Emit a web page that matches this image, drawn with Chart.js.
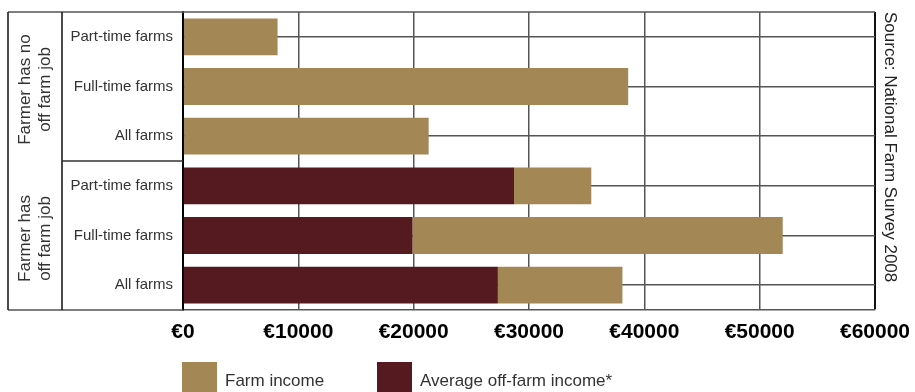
<!DOCTYPE html>
<html>
<head>
<meta charset="utf-8">
<script src="https://cdn.jsdelivr.net/npm/chart.js@4"></script>
<style>
  body { margin: 0; background: #fff; }
  #wrap { width: 915px; height: 392px; position: relative; }
</style>
</head>
<body>
<div id="wrap"><canvas id="myChart1"></canvas></div>
<script>
// categories, top to bottom
const farmTypes = ['Part-time farms', 'Full-time farms', 'All farms', 'Part-time farms', 'Full-time farms', 'All farms'];
const groupLabels = [['Farmer has no', 'off farm job'], ['Farmer has', 'off farm job']];
const groupSizes = [3, 3];

// series values (euro)
const offFarmIncome = [100, 100, 100, 28700, 19900, 27300];
const farmIncome = [8100, 38500, 21200, 6700, 32100, 10800];

const tickValues = [0, 10000, 20000, 30000, 40000, 50000, 60000];
const sourceText = 'Source: National Farm Survey 2008';

const tan = 'rgb(163, 136, 86)';
const maroon = 'rgb(84, 26, 31)';

// draws the table frame, group labels, source note and legend
const framePlugin = {
    id: 'frame',
    afterDraw(chart) {
        const ctx = chart.ctx;
        const area = chart.chartArea;
        const yScale = chart.scales.y;
        const outerX = 8, innerX = 62;

        ctx.save();
        ctx.strokeStyle = '#555';
        ctx.lineWidth = 1.5;
        ctx.beginPath();
        ctx.moveTo(outerX, area.top); ctx.lineTo(area.right, area.top);
        ctx.moveTo(outerX, area.bottom); ctx.lineTo(area.left, area.bottom);
        ctx.stroke();

        ctx.strokeStyle = '#111';
        ctx.beginPath();
        ctx.moveTo(outerX, area.top); ctx.lineTo(outerX, area.bottom);
        ctx.moveTo(innerX, area.top); ctx.lineTo(innerX, area.bottom);
        ctx.stroke();

        // group separators + rotated group labels
        let start = 0;
        groupSizes.forEach((size, g) => {
            const end = start + size - 1;
            const half = (yScale.getPixelForTick(1) - yScale.getPixelForTick(0)) / 2;
            const top = yScale.getPixelForTick(start) - half;
            const bottom = yScale.getPixelForTick(end) + half;
            if (g > 0) {
                ctx.strokeStyle = '#333';
                ctx.lineWidth = 1.5;
                ctx.beginPath();
                ctx.moveTo(innerX, top); ctx.lineTo(area.left, top);
                ctx.stroke();
            }
            const cy = (top + bottom) / 2 + 3;
            ctx.save();
            ctx.translate(35, cy);
            ctx.rotate(-Math.PI / 2);
            ctx.fillStyle = '#333';
            ctx.font = '17px "Liberation Sans", Arial, sans-serif';
            ctx.textAlign = 'center';
            ctx.textBaseline = 'middle';
            ctx.fillText(groupLabels[g][0], 0, -10);
            ctx.fillText(groupLabels[g][1], 0, 10);
            ctx.restore();
            start += size;
        });

        // source note on the right
        ctx.save();
        ctx.translate(890, area.top);
        ctx.rotate(Math.PI / 2);
        ctx.fillStyle = '#222';
        ctx.font = '17px "Liberation Sans", Arial, sans-serif';
        ctx.textAlign = 'left';
        ctx.textBaseline = 'middle';
        ctx.fillText(sourceText, 0, 0);
        ctx.restore();

        // legend (farm income first)
        const items = [chart.data.datasets[1], chart.data.datasets[0]];
        const xs = [182, 377];
        ctx.font = '17px "Liberation Sans", Arial, sans-serif';
        ctx.textBaseline = 'middle';
        ctx.textAlign = 'left';
        items.forEach((ds, i) => {
            ctx.fillStyle = ds.backgroundColor;
            ctx.fillRect(xs[i], 362, 35, 30);
            ctx.fillStyle = '#333';
            ctx.fillText(ds.label, xs[i] + 43, 381);
        });
        ctx.restore();
    }
};

const ctx = document.getElementById('myChart1').getContext('2d');
const chart1 = new Chart(ctx, {
    type: 'bar',
    data: {
        labels: farmTypes,
        datasets: [{
            label: 'Average off-farm income*',
            data: offFarmIncome,
            backgroundColor: maroon,
            borderWidth: 0,
            barPercentage: 0.74,
            categoryPercentage: 1
        }, {
            label: 'Farm income',
            data: farmIncome,
            backgroundColor: tan,
            borderWidth: 0,
            barPercentage: 0.74,
            categoryPercentage: 1
        }]
    },
    options: {
        indexAxis: 'y',
        responsive: true,
        maintainAspectRatio: false,
        animation: false,
        layout: { padding: { top: 12, right: 40, left: 0, bottom: 0 } },
        plugins: {
            legend: { display: false },
            tooltip: { enabled: false }
        },
        scales: {
            x: {
                stacked: true,
                min: 0,
                max: 60000,
                afterBuildTicks: (scale) => {
                    scale.ticks = tickValues.map(v => ({ value: v }));
                },
                afterFit: (scale) => {
                    scale.height = 82;
                    scale.paddingLeft = 0;
                    scale.paddingRight = 0;
                },
                ticks: {
                    color: '#000',
                    padding: 10,
                    maxRotation: 0,
                    font: { family: '"Liberation Sans", Arial, sans-serif', size: 21, weight: 'bold' },
                    callback: (v) => '€' + v
                },
                grid: {
                    drawTicks: false,
                    color: (c) => c.index === tickValues.length - 1 ? '#111' : '#555',
                    lineWidth: (c) => c.index === tickValues.length - 1 ? 2 : 1.5
                },
                border: { display: true, color: '#555', width: 1.5 }
            },
            y: {
                stacked: true,
                afterFit: (scale) => {
                    scale.width = 183;
                    scale.paddingTop = 0;
                    scale.paddingBottom = 0;
                },
                ticks: {
                    color: '#333',
                    padding: 10,
                    font: { family: '"Liberation Sans", Arial, sans-serif', size: 15 }
                },
                grid: {
                    offset: false,
                    drawTicks: false,
                    color: '#555',
                    lineWidth: 1.5
                },
                border: { display: true, color: '#000', width: 2 }
            }
        }
    },
    plugins: [framePlugin]
});
</script>
</body>
</html>
